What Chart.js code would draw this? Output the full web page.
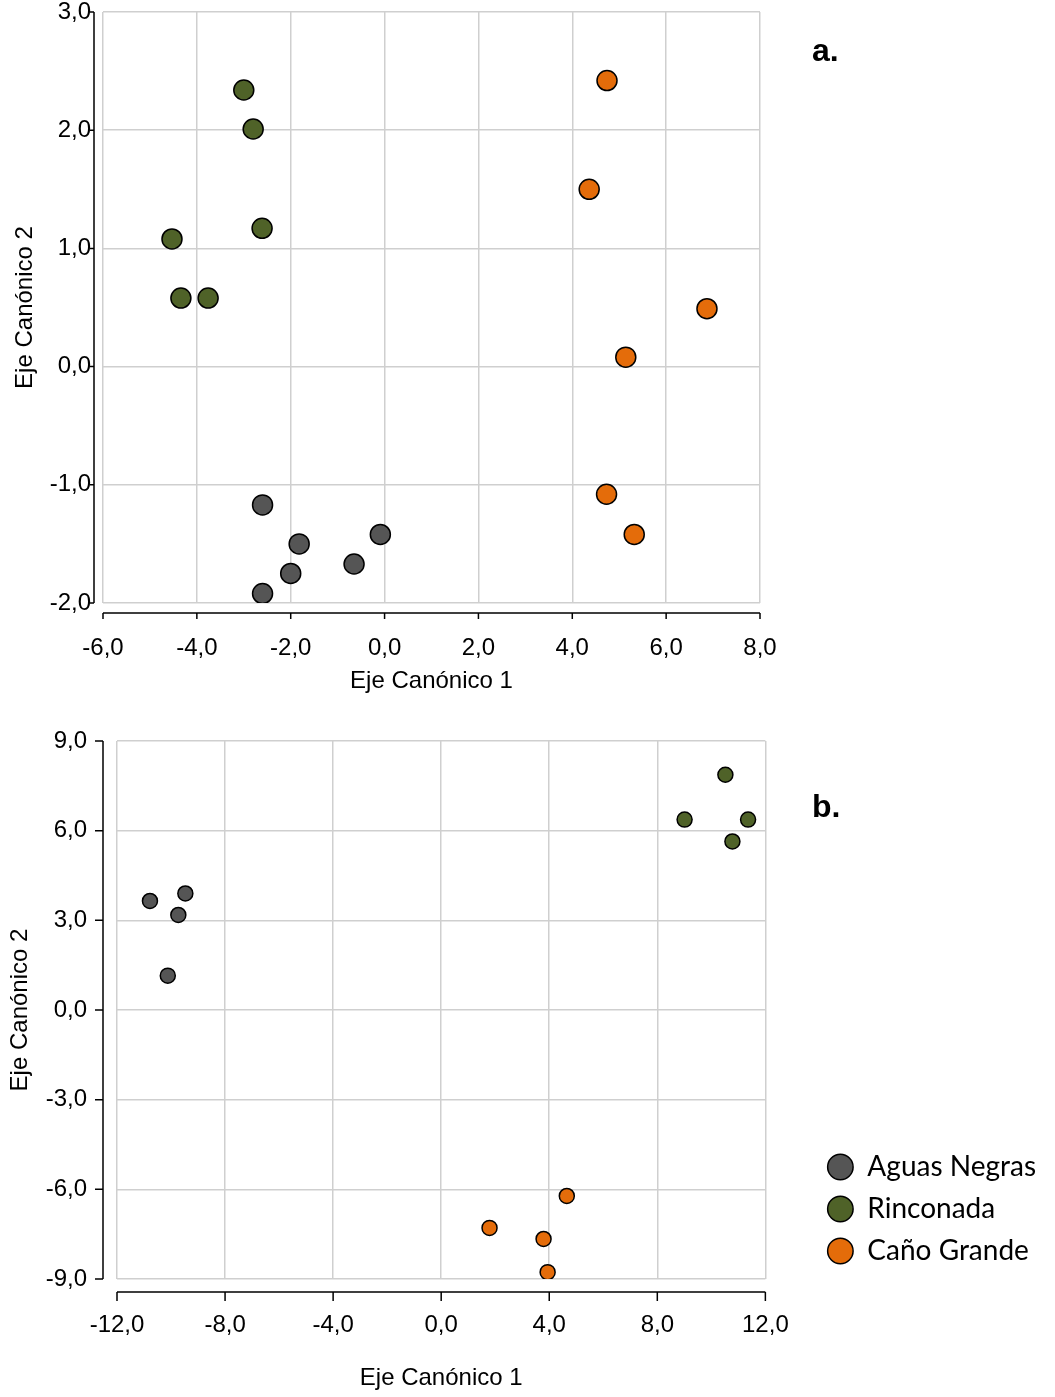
<!DOCTYPE html>
<html lang="es">
<head>
<meta charset="UTF-8">
<title>Ejes canónicos</title>
<script src="https://cdn.jsdelivr.net/npm/chart.js"></script>
<style>
  body { margin: 0; background: #fff; }
  .panel { position: absolute; left: 0; width: 1055px; }
  .tag { position: absolute; font: bold 32px "Liberation Sans", Arial, sans-serif; color: #000; }
</style>
</head>
<body>
<div class="panel" style="top:0;height:705px"><canvas id="chartA"></canvas></div>
<div class="panel" style="top:720px;height:677px"><canvas id="chartB"></canvas></div>
<div class="tag" style="left:812px;top:32px">a.</div>
<div class="tag" style="left:812px;top:788px">b.</div>

<script>
const groups = ['Aguas Negras', 'Rinconada', 'Caño Grande'];
const colors = ['#555555', '#4f6228', '#e46c0a'];

// panel a
const aAguasX = [-2.60, -1.82, -2.00, -2.60, -0.65, -0.09];
const aAguasY = [-1.17, -1.50, -1.75, -1.92, -1.67, -1.42];
const aRincX = [-3.00, -2.80, -2.61, -4.53, -4.34, -3.76];
const aRincY = [2.34, 2.01, 1.17, 1.08, 0.58, 0.58];
const aCanoX = [4.74, 4.36, 6.87, 5.14, 4.73, 5.32];
const aCanoY = [2.42, 1.50, 0.49, 0.08, -1.08, -1.42];
const aTicksX = [-6, -4, -2, 0, 2, 4, 6, 8];
const aTicksY = [-2, -1, 0, 1, 2, 3];

// panel b
const bAguasX = [-10.78, -9.47, -9.73, -10.12];
const bAguasY = [3.65, 3.90, 3.18, 1.15];
const bRincX = [10.52, 9.01, 11.36, 10.78];
const bRincY = [7.87, 6.37, 6.37, 5.64];
const bCanoX = [1.79, 3.79, 4.65, 3.94];
const bCanoY = [-7.29, -7.66, -6.22, -8.77];
const bTicksX = [-12, -8, -4, 0, 4, 8, 12];
const bTicksY = [-9, -6, -3, 0, 3, 6, 9];

const fmt = v => v.toFixed(1).replace('.', ',');
const pts = (xs, ys) => xs.map((x, i) => ({ x: x, y: ys[i] }));

// axis lines sit a little away from the plot box, like the original
const offsetAxes = {
  id: 'offsetAxes',
  afterDraw(chart, args, o) {
    const { ctx, chartArea, scales: { x, y } } = chart;
    ctx.save();
    ctx.strokeStyle = '#000';
    ctx.lineWidth = 1.5;
    ctx.beginPath();
    const ax = chartArea.left - o.yGap;
    ctx.moveTo(ax, y.getPixelForValue(y.max));
    ctx.lineTo(ax, y.getPixelForValue(y.min));
    y.ticks.forEach(t => {
      const p = y.getPixelForValue(t.value);
      ctx.moveTo(ax, p);
      ctx.lineTo(ax - o.yTick, p);
    });
    const ay = chartArea.bottom + o.xGap;
    ctx.moveTo(x.getPixelForValue(x.min), ay);
    ctx.lineTo(x.getPixelForValue(x.max), ay);
    x.ticks.forEach(t => {
      const p = x.getPixelForValue(t.value);
      ctx.moveTo(p, ay);
      ctx.lineTo(p, ay + o.xTick);
    });
    ctx.stroke();
    ctx.restore();
  }
};

function makeSets(series, radius) {
  return series.map((d, i) => ({
    label: groups[i],
    data: d,
    backgroundColor: colors[i],
    borderColor: '#000',
    borderWidth: 1.5,
    pointRadius: radius,
    pointHoverRadius: radius
  }));
}

const tickFont = { family: '"Liberation Sans", Arial, sans-serif', size: 24 };
const titleFont = { family: '"Liberation Sans", Arial, sans-serif', size: 24 };
const gridStyle = { color: '#cfcfcf', lineWidth: 1.5, drawTicks: false };

new Chart(document.getElementById('chartA'), {
  type: 'scatter',
  data: {
    datasets: makeSets([pts(aAguasX, aAguasY), pts(aRincX, aRincY), pts(aCanoX, aCanoY)], 10)
  },
  options: {
    responsive: true,
    maintainAspectRatio: false,
    animation: false,
    layout: { padding: { top: 0, right: 295, left: 0, bottom: 0 } },
    plugins: {
      legend: { display: false },
      tooltip: { enabled: false },
      offsetAxes: { yGap: 9, yTick: 4, xGap: 10, xTick: 6 }
    },
    scales: {
      x: {
        type: 'linear', min: -6, max: 8,
        afterBuildTicks: s => { s.ticks = aTicksX.map(v => ({ value: v })); },
        afterFit: s => { s.height = 102; },
        grid: gridStyle,
        border: { display: false },
        ticks: { color: '#000', font: tickFont, padding: 31, callback: fmt, maxRotation: 0 },
        title: { display: true, text: 'Eje Canónico 1', color: '#000', font: titleFont, padding: { top: 0, bottom: 9 } }
      },
      y: {
        type: 'linear', min: -2, max: 3,
        afterBuildTicks: s => { s.ticks = aTicksY.map(v => ({ value: v })); },
        afterFit: s => { s.width = 103; s.paddingTop = 12; s.paddingBottom = 0; },
        grid: gridStyle,
        border: { display: false },
        ticks: { color: '#000', font: tickFont, padding: 12, callback: fmt },
        title: { display: true, text: 'Eje Canónico 2', color: '#000', font: titleFont, padding: { top: 11, bottom: 0 } }
      }
    }
  },
  plugins: [offsetAxes]
});

new Chart(document.getElementById('chartB'), {
  type: 'scatter',
  data: {
    datasets: makeSets([pts(bAguasX, bAguasY), pts(bRincX, bRincY), pts(bCanoX, bCanoY)], 7.5)
  },
  options: {
    responsive: true,
    maintainAspectRatio: false,
    animation: false,
    layout: { padding: { top: 0, right: 9, left: 0, bottom: 0 } },
    plugins: {
      legend: {
        display: true,
        position: 'right',
        align: 'end',
        fullSize: false,
        maxWidth: 260,
        labels: {
          usePointStyle: true,
          pointStyle: 'circle',
          boxWidth: 26,
          boxHeight: 18,
          padding: 14,
          color: '#000',
          font: { family: 'Lato, "Open Sans", sans-serif', size: 28 }
        }
      },
      tooltip: { enabled: false },
      offsetAxes: { yGap: 14, yTick: 8, xGap: 13, xTick: 9 }
    },
    scales: {
      x: {
        type: 'linear', min: -12, max: 12,
        afterBuildTicks: s => { s.ticks = bTicksX.map(v => ({ value: v })); },
        afterFit: s => { s.height = 118; },
        grid: gridStyle,
        border: { display: false },
        ticks: { color: '#000', font: tickFont, padding: 32, callback: fmt, maxRotation: 0 },
        title: { display: true, text: 'Eje Canónico 1', color: '#000', font: titleFont, padding: { top: 0, bottom: 4 } }
      },
      y: {
        type: 'linear', min: -9, max: 9,
        afterBuildTicks: s => { s.ticks = bTicksY.map(v => ({ value: v })); },
        afterFit: s => { s.width = 117; s.paddingTop = 21; s.paddingBottom = 0; },
        grid: gridStyle,
        border: { display: false },
        ticks: { color: '#000', font: tickFont, padding: 30, callback: fmt },
        title: { display: true, text: 'Eje Canónico 2', color: '#000', font: titleFont, padding: { top: 6, bottom: 0 } }
      },
      gap: {
        type: 'linear',
        position: 'right',
        display: true,
        grid: { display: false },
        border: { display: false },
        ticks: { display: false },
        afterFit: s => { s.width = 48; }
      }
    }
  },
  plugins: [offsetAxes]
});
</script>
</body>
</html>
